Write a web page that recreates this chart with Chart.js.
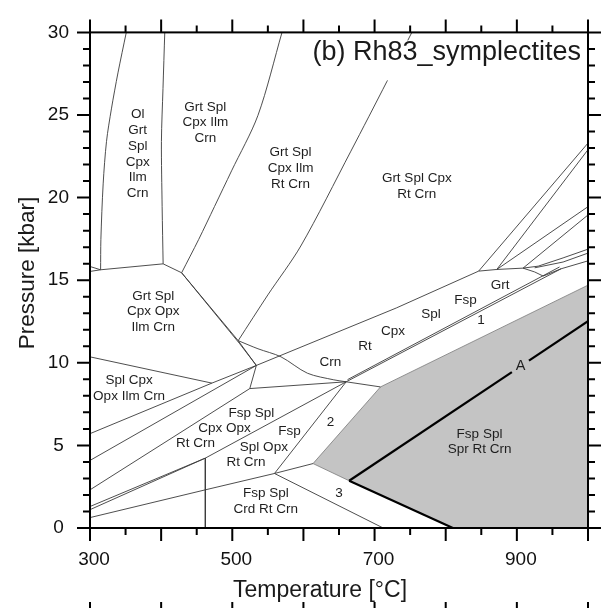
<!DOCTYPE html>
<html><head><meta charset="utf-8">
<script src="https://cdn.jsdelivr.net/npm/chart.js@4.4.0/dist/chart.umd.min.js"></script>
<style>html,body{margin:0;padding:0;background:#fff;}</style>
</head><body>
<canvas id="c" width="608" height="608"></canvas>
<script>
// ---- axes ----
const tempRange = [300, 1000];
const presRange = [0, 30];
const tempLabelTicks = [300, 500, 700, 900];
const tempMinorStep = 50, tempMajorStep = 100;
const presMinorStep = 1, presMajorStep = 5;

// ---- phase boundaries: [T (°C), P (kbar)] ----
const olLeft    = [[351.0,30],[339.3,27.55],[330.1,25.37],[323.2,23.4],[318.5,20.83],[315.3,17.47],[314.9,15.63]];
const leftStub  = [[300,15.83],[314.9,15.63]];
const a1ToB     = [[300,15.53],[314.9,15.63],[402.8,15.99]];
const bVertical = [[402.8,15.99],[401.4,19.45],[400.4,23.4],[402.6,26.6],[405.1,30]];
const bToC      = [[402.8,15.99],[428.8,15.45]];
const cCurve    = [[428.8,15.45],[452.8,17.47],[475,19.46],[499.0,21.62],[536.1,24.98],[569.9,30]];
const cToD1     = [[428.8,15.45],[508.3,11.34],[533.8,9.84]];
const cToD2     = [[428.8,15.45],[510.5,11.15],[533.8,9.84]];
const eCurveUp  = [[508.3,11.34],[550,14.11],[596.3,17.07],[666.7,22.81],[717.6,27.05],[752.4,30]];
const eCurveF   = [[508.3,11.34],[536.1,10.85],[568.5,10.36],[605.6,9.37],[642.6,8.97],[660.1,8.85]];
const leftToH   = [[300,10.36],[471.3,8.77]];
const line1     = [[300,5.71],[471.3,8.77]];
const hToD      = [[471.3,8.77],[533.8,9.84]];
const line2     = [[300,4.09],[533.8,9.84]];
const dToI      = [[533.8,9.84],[524.6,8.44]];
const line3     = [[300,2.31],[524.6,8.44]];
const iToF      = [[524.6,8.44],[660.1,8.85]];
const dToG      = [[533.8,9.84],[730.6,13.32],[846.3,15.55]];
const line4     = [[300,1.30],[462.1,4.23]];
const line5     = [[300,1.11],[462.1,4.23]];
const jVertical = [[462.1,4.23],[462.1,0]];
const jToF      = [[462.1,4.23],[660.1,8.85]];
const line6     = [[300,0.63],[462.1,2.31],[559.3,3.30]];
const kToF      = [[559.3,3.30],[660.1,8.85]];
const kToN      = [[559.3,3.30],[613.5,3.90]];
const kToBottom = [[559.3,3.30],[712.1,0]];
const fToM      = [[660.1,8.85],[708.3,8.54]];
const fToQ1     = [[660.1,8.85],[962.1,15.69]];
const fToQ2     = [[662.0,8.98],[960.0,15.80]];
const gToR1     = [[846.3,15.55],[1000,23.3]];
const g2ToR1    = [[871.8,15.65],[1000,22.9]];
const g2ToR2    = [[871.8,15.65],[1000,19.45]];
const g3ToR     = [[908.7,15.73],[1000,18.95]];
const gHoriz    = [[846.3,15.55],[871.8,15.65],[908.7,15.73],[930,15.85],[965,16.35],[1000,16.88]];
const gHoriz2   = [[925,15.75],[965,16.1],[1000,16.64]];
const tongue    = [[908.7,15.73],[925,15.5],[937,15.25],[962.1,15.69]];
const qToR      = [[962.1,15.69],[1000,16.17]];
// shaded field (Fsp Spl Spr Rt Crn)
const shadedField = [[613.5,3.90],[708.3,8.54],[1000,14.70],[1000,0],[810.1,0],[664.3,2.86],[613.5,3.90]];
// bold reaction line "A"
const boldA1 = [[664.3,2.86],[893,9.44]];
const boldA2 = [[917,10.13],[1000,12.52]];
const boldLow = [[664.3,2.86],[810.1,0]];

const thinLines = [olLeft,leftStub,a1ToB,bVertical,bToC,cCurve,cToD1,cToD2,eCurveUp,eCurveF,leftToH,line1,hToD,line2,dToI,line3,iToF,dToG,line4,line5,jVertical,jToF,line6,kToF,kToN,kToBottom,fToM,fToQ1,fToQ2,gToR1,g2ToR1,g2ToR2,g3ToR,gHoriz,gHoriz2,tongue,qToR];
const curvedLines = [olLeft,bVertical,cCurve,eCurveUp,eCurveF];

// ---- field labels: text, T, P ----
const fieldLabels = [
  ["Ol\nGrt\nSpl\nCpx\nIlm\nCrn", 367.1, 22.64],
  ["Grt Spl\nCpx Ilm\nCrn", 462.1, 24.53],
  ["Grt Spl\nCpx Ilm\nRt Crn", 581.9, 21.78],
  ["Grt Spl Cpx\nRt Crn", 759.3, 20.68],
  ["Grt Spl\nCpx Opx\nIlm Crn", 388.9, 13.09],
  ["Spl Cpx\nOpx Ilm Crn", 355.0, 8.44],
  ["Fsp Spl", 526.8, 6.95],
  ["Cpx Opx", 488.9, 6.03],
  ["Rt Crn", 448.2, 5.14],
  ["Fsp", 580.6, 5.87],
  ["Spl Opx", 544.4, 4.88],
  ["Rt Crn", 519.4, 3.99],
  ["Fsp Spl\nCrd Rt Crn", 547.2, 1.60],
  ["2", 637.9, 6.39],
  ["3", 650.0, 2.13],
  ["Crn", 637.9, 10.06],
  ["Rt", 686.5, 11.01],
  ["Cpx", 726.0, 11.93],
  ["Spl", 779.2, 12.93],
  ["Fsp", 827.8, 13.81],
  ["1", 849.6, 12.60],
  ["Grt", 876.4, 14.70],
  ["Fsp Spl\nSpr Rt Crn", 847.5, 5.21]
];
const reactionLabel = ["A", 905.2, 9.82];
const panelTitle = "(b) Rh83_symplectites";
const xTitle = "Temperature [°C]";
const yTitle = "Pressure [kbar]";

const FONT = '"Liberation Sans", Arial, sans-serif';
const toXY = pts => pts.map(p => ({x: p[0], y: p[1]}));

const datasets = [];
datasets.push({data: toXY(shadedField), showLine: true, fill: 'shape', backgroundColor: '#c4c4c4',
  borderColor: '#7a7a7a', borderWidth: 0.8, pointRadius: 0, order: 100});
thinLines.forEach(l => datasets.push({data: toXY(l), showLine: true, fill: false, pointRadius: 0,
  borderColor: '#3a3a3a', borderWidth: 0.9, tension: curvedLines.includes(l) ? 0.3 : 0, order: 10}));
[boldA1, boldA2, boldLow].forEach(l => datasets.push({data: toXY(l), showLine: true, fill: false,
  pointRadius: 0, borderColor: '#000', borderWidth: 2.2, order: 1}));

const decor = {
  id: 'decor',
  afterDatasetsDraw(chart) {
    const {ctx, chartArea: a, scales: {x, y}} = chart;
    ctx.save();
    // white backing behind the panel title (the title interrupts the boundary lines)
    ctx.font = '27px ' + FONT;
    const tw = ctx.measureText(panelTitle).width;
    ctx.fillStyle = '#fff';
    ctx.fillRect(581 - tw - 4, a.top + 8, tw + 8, 40);
    // field labels
    ctx.fillStyle = '#1e1e1e';
    ctx.font = '13.5px ' + FONT;
    ctx.textAlign = 'center'; ctx.textBaseline = 'middle';
    fieldLabels.forEach(([txt, T, P]) => {
      const lines = txt.split('\n');
      const cx = x.getPixelForValue(T), cy = y.getPixelForValue(P);
      lines.forEach((s, i) => ctx.fillText(s, cx, cy + (i - (lines.length - 1) / 2) * 15.7));
    });
    ctx.font = '14.5px ' + FONT;
    ctx.fillText(reactionLabel[0], x.getPixelForValue(reactionLabel[1]), y.getPixelForValue(reactionLabel[2]));
    // frame
    ctx.strokeStyle = '#000'; ctx.lineWidth = 2;
    ctx.strokeRect(a.left, a.top, a.right - a.left, a.bottom - a.top);
    // ticks
    ctx.beginPath();
    for (let t = tempRange[0]; t <= tempRange[1]; t += tempMinorStep) {
      const px = x.getPixelForValue(t);
      const len = (t % tempMajorStep === 0) ? 13 : 7;
      ctx.moveTo(px, a.bottom); ctx.lineTo(px, a.bottom + len);
      ctx.moveTo(px, a.top); ctx.lineTo(px, a.top - len);
    }
    for (let p = presRange[0]; p <= presRange[1]; p += presMinorStep) {
      const py = y.getPixelForValue(p);
      const len = (p % presMajorStep === 0) ? 13 : 7;
      ctx.moveTo(a.left, py); ctx.lineTo(a.left - len, py);
      ctx.moveTo(a.right, py); ctx.lineTo(a.right + len, py);
    }
    // top ticks of the panel below (cut off at page bottom)
    for (let t = tempRange[0]; t <= tempRange[1]; t += tempMajorStep) {
      const px = x.getPixelForValue(t);
      ctx.moveTo(px, 602); ctx.lineTo(px, 608);
    }
    ctx.stroke();
    // panel title
    ctx.fillStyle = '#1a1a1a';
    ctx.font = '27px ' + FONT;
    ctx.textAlign = 'right'; ctx.textBaseline = 'alphabetic';
    ctx.fillText(panelTitle, 581, 60);
    // axis titles
    ctx.font = '23px ' + FONT;
    ctx.textAlign = 'center';
    ctx.fillText(xTitle, 320, 597);
    ctx.save();
    ctx.font = '22.5px ' + FONT;
    ctx.translate(33.5, 273);
    ctx.rotate(-Math.PI / 2);
    ctx.fillText(yTitle, 0, 0);
    ctx.restore();
    ctx.restore();
  }
};

new Chart(document.getElementById('c'), {
  type: 'scatter',
  data: {datasets},
  options: {
    responsive: false, animation: false, devicePixelRatio: 1,
    layout: {padding: {top: 22, right: 14, left: 0, bottom: 0}},
    plugins: {legend: {display: false}, tooltip: {enabled: false}},
    scales: {
      x: {
        type: 'linear', position: 'bottom', min: tempRange[0], max: tempRange[1],
        grid: {display: false, drawTicks: false}, border: {display: false},
        ticks: {stepSize: tempMajorStep, autoSkip: false, maxRotation: 0, padding: 20, labelOffset: 4,
          color: '#111', font: {family: FONT, size: 19},
          callback: v => tempLabelTicks.includes(v) ? String(v) : ''},
        afterFit: s => { s.height = 80; }
      },
      y: {
        type: 'linear', position: 'left', min: presRange[0], max: presRange[1],
        grid: {display: false, drawTicks: false}, border: {display: false},
        ticks: {stepSize: presMajorStep, autoSkip: false, padding: 21, crossAlign: 'center',
          color: '#111', font: {family: FONT, size: 19}},
        afterFit: s => { s.width = 90; }
      }
    }
  },
  plugins: [decor]
});
</script>
</body></html>
